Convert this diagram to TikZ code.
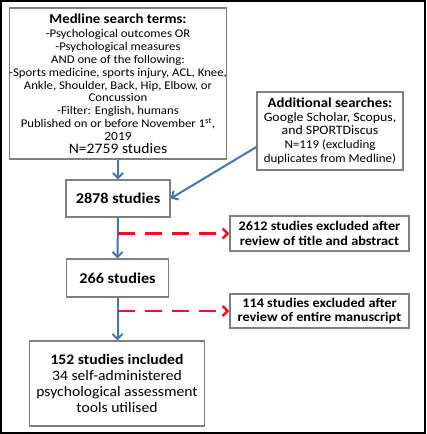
\documentclass[tikz,border=0pt]{standalone}
\usepackage{fontspec}
\setmainfont{Carlito}[FakeStretch=1.08]
\usetikzlibrary{arrows.meta}
\definecolor{boxgrey}{HTML}{808080}
\definecolor{flowblue}{HTML}{4275B5}
\definecolor{exclred}{HTML}{E8141B}

\newcommand{\bodyfont}{\fontsize{11.8}{12.9}\selectfont}
\newcommand{\headfont}{\fontsize{13.7}{15}\selectfont\bfseries}

\begin{document}
\begin{tikzpicture}[x=1pt,y=-1pt,
    box/.style={draw=boxgrey, line width=1.3pt, align=center, inner sep=0pt},
    flow/.style={flowblue, line width=2pt, -{Straight Barb[length=5pt,width=10pt]}},
    excl/.style={exclred, line width=2.4pt, dash pattern=on 17pt off 10pt, -{Straight Barb[length=5pt,width=10pt]}}]

% Rahmen
\useasboundingbox (0,0) rectangle (426,434);
\draw[line width=2pt] (1,1) rectangle (425,433);

% Suche
\node[box, minimum width=212pt, minimum height=151pt, font=\bodyfont] (medline) at (118,83.5)
  {{\headfont Medline search terms:}\\[1.5pt]
   -Psychological outcomes OR\\
   -Psychological measures\\
   AND one of the following:\\
   -Sports medicine, sports injury, ACL, Knee,\\
   Ankle, Shoulder, Back, Hip, Elbow, or\\
   Concussion\\
   -Filter: English, humans\\
   Published on or before November 1\textsuperscript{st},\\
   {\fontsize{12.5}{12.9}\selectfont 2019}\\
   {\fontsize{14.5}{13.4}\selectfont N=2759 studies}};

\node[box, minimum width=146pt, minimum height=78pt, font=\fontsize{12.8}{13.8}\selectfont] (extra) at (330,131)
  {{\headfont Additional searches:}\\
   Google Scholar, Scopus,\\
   and SPORTDiscus\\
   {\fontsize{12}{13.8}\selectfont N=119 (excluding}\\
   {\fontsize{12}{13.8}\selectfont duplicates from Medline)}};

% Ablauf
\node[box, minimum width=104pt, minimum height=37pt, font=\fontsize{15}{16}\selectfont\bfseries] (n2878) at (118,198.5) {2878 studies};
\node[box, minimum width=102pt, minimum height=38pt, font=\fontsize{15}{16}\selectfont\bfseries] (n266) at (117.5,278) {266 studies};
\node[box, minimum width=175pt, minimum height=85pt, font=\fontsize{14.5}{15.7}\selectfont] (final) at (117,383.5)
  {{\bfseries 152 studies included}\\
   34 self-administered\\
   psychological assessment\\
   tools utilised};

% Ausschluss
\node[box, minimum width=179pt, minimum height=35pt, font=\fontsize{13.2}{14.3}\selectfont\bfseries] (ex2612) at (319.5,233.5)
  {2612 studies excluded after\\ review of title and abstract};
\node[box, minimum width=179pt, minimum height=34pt, font=\fontsize{13.2}{14.3}\selectfont\bfseries] (ex114) at (319.5,311)
  {114 studies excluded after\\ review of entire manuscript};

% Pfeile
\draw[flow] (medline.south) -- (n2878.north);
\draw[flow] ([yshift=-16pt]extra.west) -- (n2878.east);
\draw[flow] (n2878.south) -- (n266.north);
\draw[flow] (n266.south) -- (n266.south |- final.north);

\draw[excl] (n2878.south |- ex2612.west) -- (ex2612.west);
\draw[excl] (n266.south |- ex114.west) -- (ex114.west);
\end{tikzpicture}
\end{document}
